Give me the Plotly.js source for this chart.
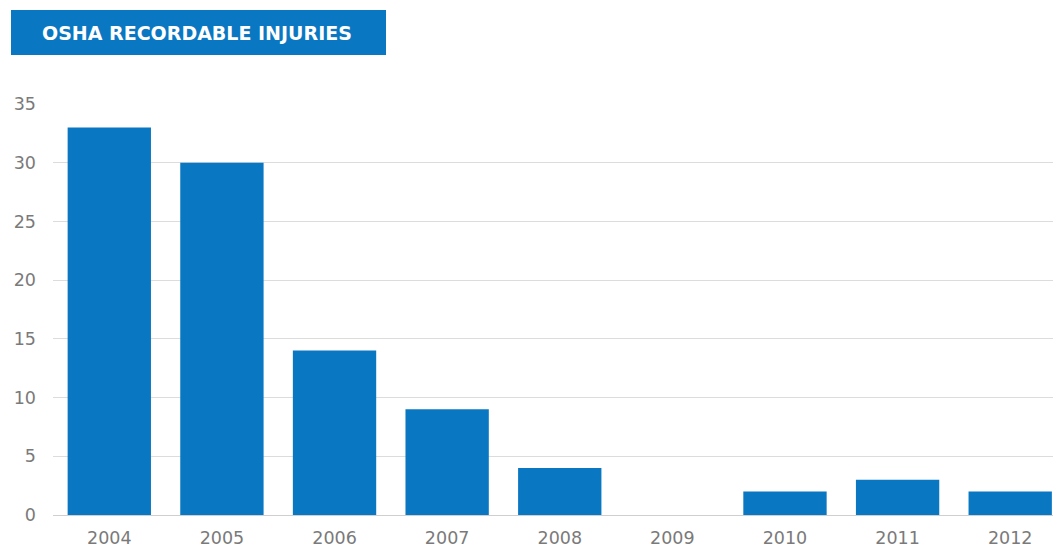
<!DOCTYPE html>
<html>
<head>
<meta charset="utf-8">
<script src="https://cdn.plot.ly/plotly-3.0.1.min.js"></script>
<style>html,body{margin:0;padding:0;background:#fff;}#chart{width:1053px;height:547px;}</style>
</head>
<body>
<div id="chart"></div>
<script>
const years = ['2004','2005','2006','2007','2008','2009','2010','2011','2012'];
const injuries = [33, 30, 14, 9, 4, 0, 2, 3, 2];
const yTicks = [0, 5, 10, 15, 20, 25, 30, 35];
const chartTitle = 'OSHA RECORDABLE INJURIES';

const blue = '#0a77c2';
const tickFont = {family: '"DejaVu Sans", sans-serif', size: 17.5, color: '#7a7a7a'};
const trace = {
  type: 'bar',
  x: years,
  y: injuries,
  marker: {color: blue},
  hoverinfo: 'x+y'
};

const layout = {
  width: 1053,
  height: 547,
  margin: {l: 53, r: 0, t: 104, b: 32, pad: 0},
  paper_bgcolor: '#ffffff',
  plot_bgcolor: '#ffffff',
  bargap: 0.26,
  showlegend: false,
  font: {family: '"DejaVu Sans", sans-serif', color: '#7a7a7a', size: 17.5},
  xaxis: {
    type: 'category',
    range: [-0.5, 8.38],
    showgrid: false,
    showline: false,
    zeroline: false,
    ticks: '',
    ticklabelstandoff: 10,
    tickfont: tickFont,
    fixedrange: true
  },
  yaxis: {
    range: [0, 35],
    tickvals: yTicks,
    showgrid: true,
    gridcolor: '#dcdcdc',
    gridwidth: 1,
    zeroline: true,
    zerolinecolor: '#cfcfcf',
    zerolinewidth: 1,
    showline: false,
    ticks: '',
    ticklabelstandoff: 16,
    tickfont: tickFont,
    fixedrange: true
  },
  shapes: [{
    type: 'rect',
    xref: 'paper', yref: 'paper',
    x0: (11 - 53) / 1000, x1: (386 - 53) / 1000,
    y0: (515 - 55) / 411, y1: (515 - 10) / 411,
    fillcolor: blue,
    line: {width: 0},
    layer: 'above'
  }],
  annotations: [{
    xref: 'paper', yref: 'paper',
    x: (40 - 53) / 1000,
    y: (515 - 33) / 411,
    xanchor: 'left', yanchor: 'middle',
    text: '<b>' + chartTitle + '</b>',
    showarrow: false,
    font: {family: '"DejaVu Sans", sans-serif', size: 19, color: '#ffffff'}
  }]
};

Plotly.newPlot('chart', [trace], layout, {displayModeBar: false, staticPlot: true});
</script>
</body>
</html>
